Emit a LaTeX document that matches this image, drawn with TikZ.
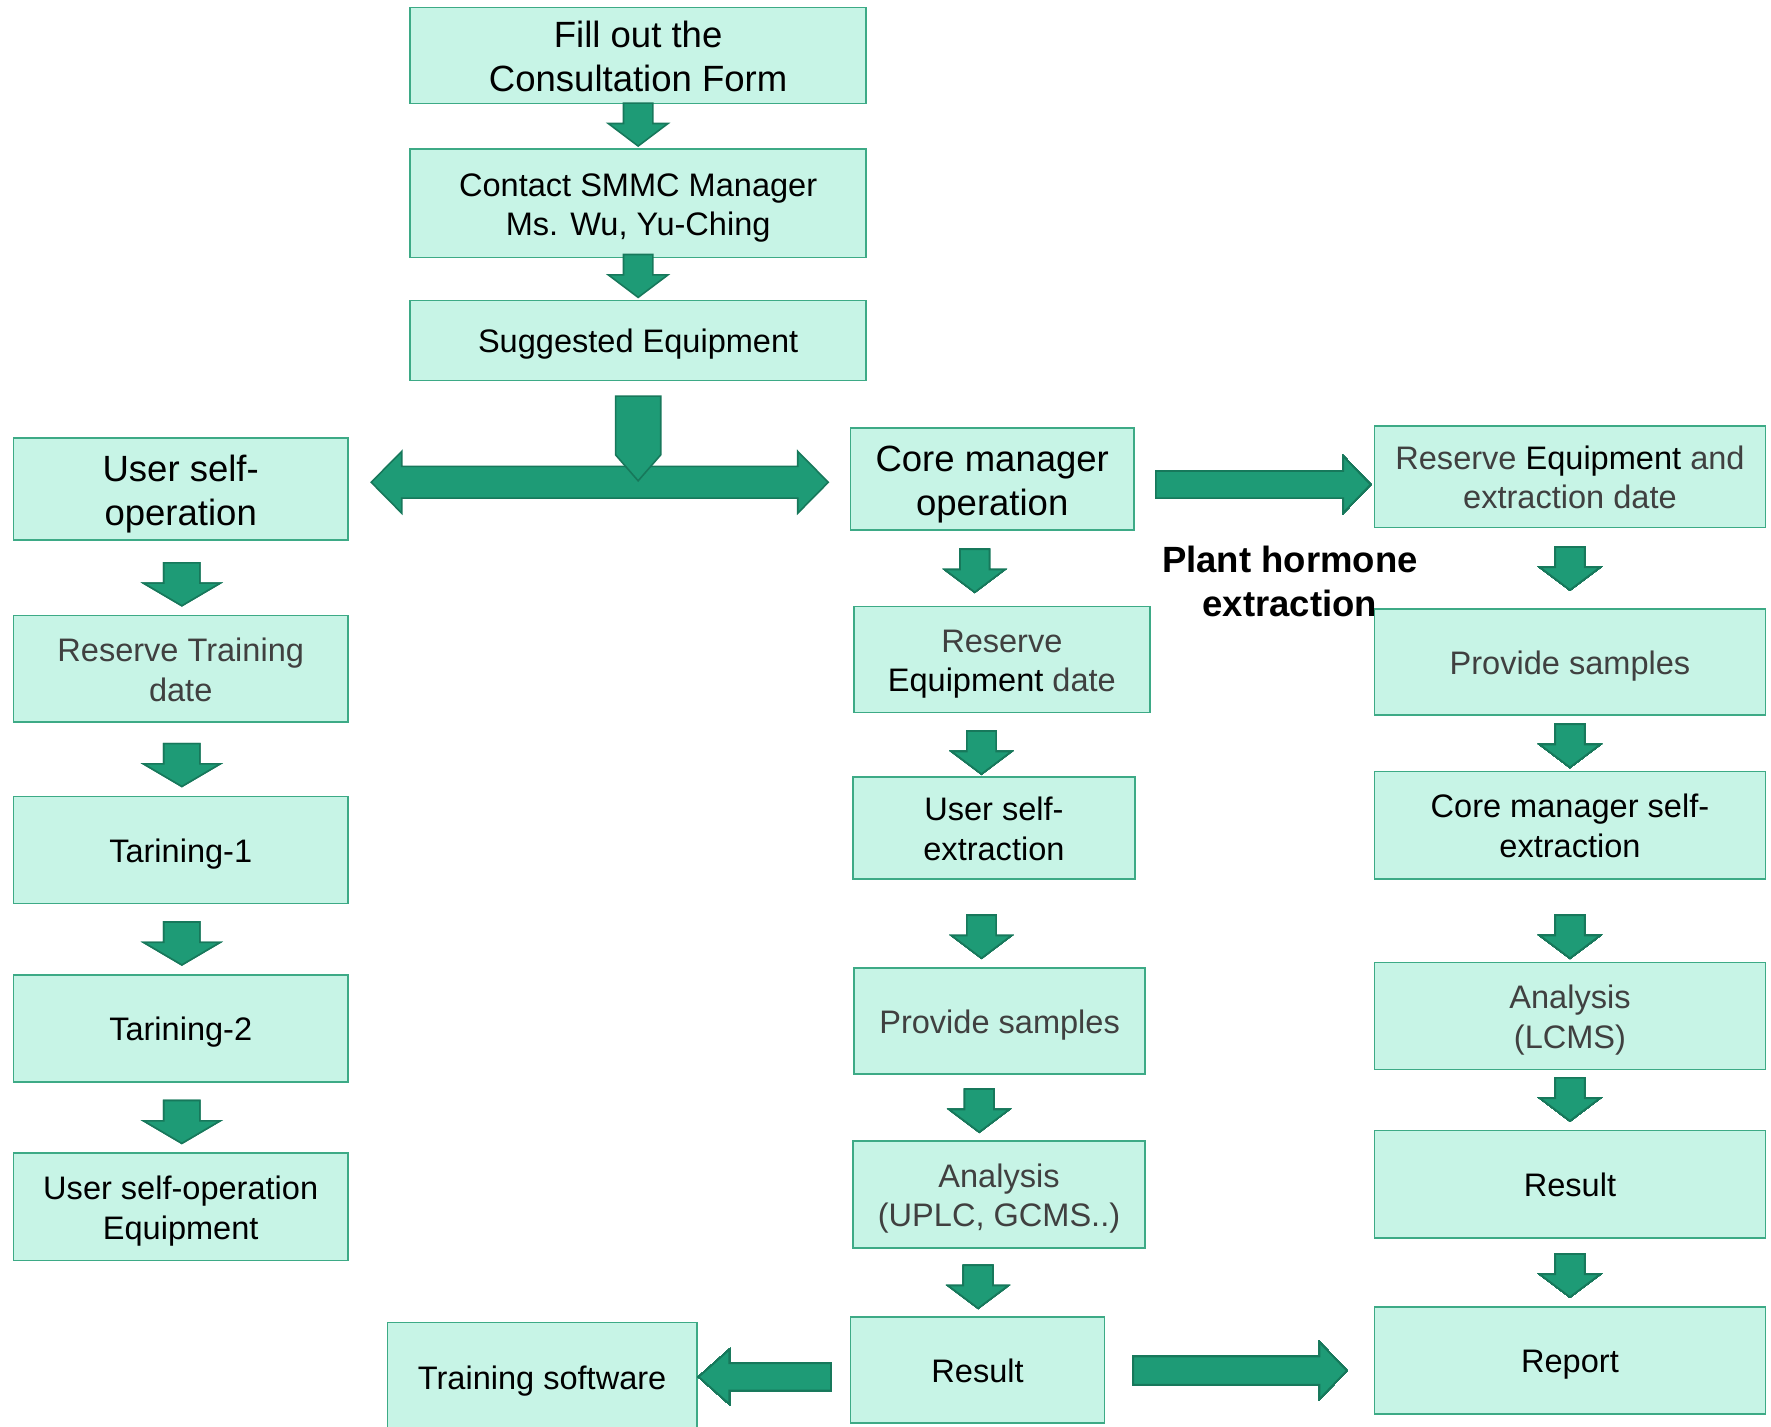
\documentclass[tikz,border=0pt]{standalone}
\usepackage{fontspec}
\setmainfont{Liberation Sans}
\usetikzlibrary{calc}
\definecolor{boxfill}{HTML}{C7F4E6}
\definecolor{boxline}{HTML}{3DAA86}
\definecolor{arrfill}{HTML}{1E9B76}
\definecolor{arrline}{HTML}{17785B}
\definecolor{txtgray}{HTML}{404040}
\newcommand\bigf{\fontsize{18.4}{22.2}\selectfont}
\newcommand\normf{\fontsize{16.4}{19.9}\selectfont}
\newcommand\pptstrut{\rule[-0.212em]{0pt}{1.117em}}
\tikzset{box/.style={draw=boxline, fill=boxfill, line width=0.8pt, align=center, inner sep=2pt, font=\normf,
    execute at begin node={\rule[-0.212em]{0pt}{1.18em}}, execute at end node=\pptstrut},
  ml/.style={execute at begin node={\rule[-0.212em]{0pt}{2.412em}}},
  blockarr/.style={draw=arrline, fill=arrfill, line width=0.8pt, line join=miter}}
% block arrow: tip, angle, length, head half width, shaft half width, head length
\newcommand\barr[6]{\draw[blockarr, shift={#1}, rotate=#2] (0,0) -- (-#6,#4) -- (-#6,#5) -- (-#3,#5) -- (-#3,-#5) -- (-#6,-#5) -- (-#6,-#4) -- cycle;}

\begin{document}
\begin{tikzpicture}[x=0.02cm, y=-0.02cm]
    \useasboundingbox (0,0) rectangle (1568,1262.6);
    \clip (0,0) rectangle (1568,1262.6);
    % top column
    \node[box, ml, font=\bigf, minimum width=8.08cm, minimum height=1.68cm] (fill) at (565,49) {Fill out the\\Consultation Form};
    \node[box, ml, minimum width=8.08cm, minimum height=1.92cm] (contact) at (565,180) {Contact SMMC Manager\\Ms. Wu, Yu-Ching};
    \node[box, minimum width=8.08cm, minimum height=1.42cm] (suggest) at (565,301.5) {Suggested Equipment};
    % left column
    \node[box, ml, font=\bigf, minimum width=5.92cm, minimum height=1.8cm] (user) at (160,433) {User self-\\operation};
    \node[box, ml, text=txtgray, minimum width=5.92cm, minimum height=1.88cm] (restrain) at (160,592) {Reserve Training\\date};
    \node[box, minimum width=5.92cm, minimum height=1.9cm] (tr1) at (160,752.5) {Tarining-1};
    \node[box, minimum width=5.92cm, minimum height=1.9cm] (tr2) at (160,910.5) {Tarining-2};
    \node[box, ml, minimum width=5.92cm, minimum height=1.9cm] (userequip) at (160,1068.5) {User self-operation\\Equipment};
    % middle column
    \node[box, ml, font=\bigf, minimum width=5.02cm, minimum height=1.8cm] (core) at (878.5,424) {Core manager\\operation};
    \node[box, ml, text=txtgray, minimum width=5.24cm, minimum height=1.88cm] (reqdate) at (887,584) {Reserve\\\textcolor{black}{Equipment} date};
    \node[box, ml, minimum width=5cm, minimum height=1.8cm] (userext) at (880,733) {User self-\\extraction};
    \node[box, text=txtgray, minimum width=5.16cm, minimum height=1.88cm] (prov) at (885,904) {Provide samples};
    \node[box, ml, text=txtgray, minimum width=5.18cm, minimum height=1.9cm] (ana) at (884.5,1057.5) {Analysis\\(UPLC, GCMS..)};
    \node[box, minimum width=4.5cm, minimum height=1.88cm] (res) at (865.5,1213) {Result};
    \node[box, minimum width=5.48cm, minimum height=1.92cm] (train) at (480,1219) {Training software};
    % right column
    \node[box, ml, text=txtgray, minimum width=6.92cm, minimum height=1.8cm] (resext) at (1390,422) {Reserve \textcolor{black}{Equipment} and\\extraction date};
    \node[box, text=txtgray, minimum width=6.92cm, minimum height=1.88cm] (prov2) at (1390,586) {Provide samples};
    \node[box, ml, minimum width=6.92cm, minimum height=1.9cm] (coreext) at (1390,730.5) {Core manager self-\\extraction};
    \node[box, ml, text=txtgray, minimum width=6.92cm, minimum height=1.9cm] (ana2) at (1390,899.5) {Analysis\\(LCMS)};
    \node[box, minimum width=6.92cm, minimum height=1.9cm] (result2) at (1390,1048.5) {Result};
    \node[box, minimum width=6.92cm, minimum height=1.9cm] (report) at (1390,1204.5) {Report};
    \node[font=\bigf\bfseries, align=center] (plant) at (1142,515) {Plant hormone\\extraction};
    % down arrows
    \foreach \a in {contact,suggest}
    \barr{($(\a.north)+(0,-2)$)}{-90}{38}{26.5}{13}{20}
    \foreach \a in {restrain,tr1,tr2,userequip}
    \barr{($(\a.north)+(1,-8)$)}{-90}{38}{34}{16}{20}
    \foreach \a/\dx/\g in {reqdate/-24/12, userext/-11/2, prov/-16/8, ana/-17.5/7, res/0.5/7}
    \barr{($(\a.north)+(\dx,-\g)$)}{-90}{38}{26.5}{13}{20}
    \foreach \a/\g in {prov2/16, coreext/3, ana2/3, result2/8, report/8}
    \barr{($(\a.north)+(0,-\g)$)}{-90}{38}{26.5}{13}{20}
    % side arrows
    \barr{($(resext.west)+(-3,7)$)}{0}{190}{25}{12}{24}
    \barr{($(report.west)+(-24,9)$)}{0}{189}{25}{12.5}{24}
    \barr{($(train.east)+(1,0)$)}{180}{117}{24}{12}{27}
    % split arrow
    \coordinate (dl) at ($(user.east |- core.west)+(20,3)$);
    \coordinate (dr) at ($(core.west)+(-19,3)$);
    \draw[blockarr] let \p1=(dl), \p2=(dr) in (\p1) -- (\x1+15.4pt,\y1+15.6pt) -- (\x1+15.4pt,\y1+8pt) -- (\x2-15.4pt,\y2+8pt) -- (\x2-15.4pt,\y2+15.6pt) -- (\p2) -- (\x2-15.4pt,\y2-15.6pt) -- (\x2-15.4pt,\y2-8pt) -- (\x1+15.4pt,\y1-8pt) -- (\x1+15.4pt,\y1-15.6pt) -- cycle;
    \draw[blockarr, shift={(suggest.south)}] (-20,13) -- (20,13) -- (20,65) -- (0,88) -- (-20,65) -- cycle;
\end{tikzpicture}
\end{document}
